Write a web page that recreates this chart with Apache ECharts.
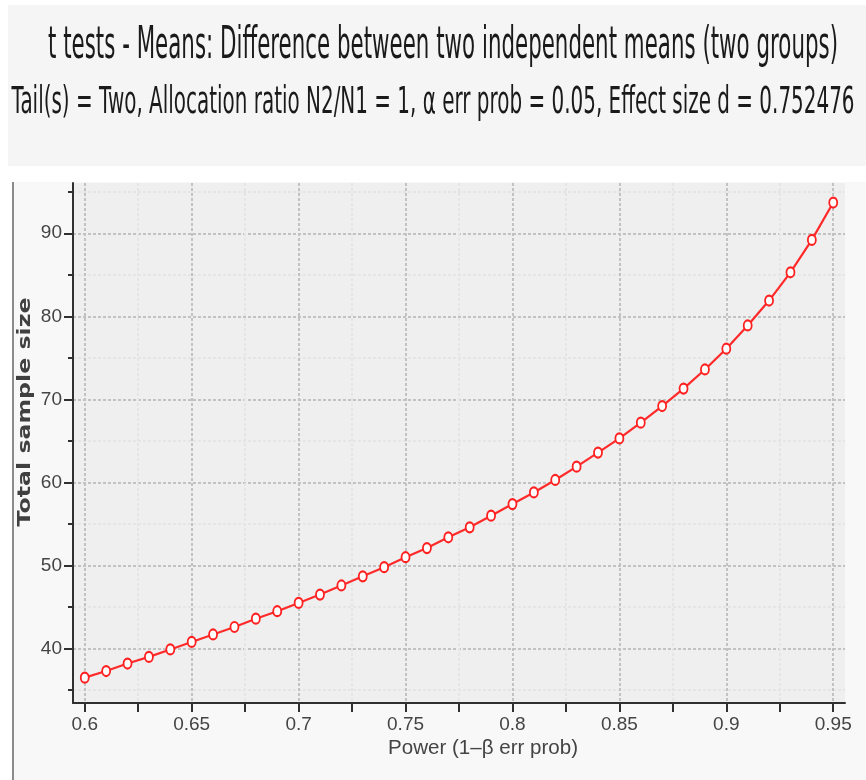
<!DOCTYPE html>
<html><head><meta charset="utf-8">
<script src="https://cdn.jsdelivr.net/npm/echarts@6/dist/echarts.min.js"></script>
<style>html,body{margin:0;padding:0;background:#ffffff}#c{width:866px;height:780px}</style>
</head><body><div id="c"></div>
<script>
// ---- data ----
const power = [0.60,0.61,0.62,0.63,0.64,0.65,0.66,0.67,0.68,0.69,0.70,0.71,0.72,0.73,0.74,0.75,0.76,0.77,0.78,0.79,0.80,0.81,0.82,0.83,0.84,0.85,0.86,0.87,0.88,0.89,0.90,0.91,0.92,0.93,0.94,0.95];
const sampleSize = [36.5,37.3,38.2,39.0,39.9,40.8,41.7,42.6,43.6,44.5,45.5,46.5,47.6,48.7,49.8,51.0,52.1,53.4,54.6,56.0,57.4,58.8,60.3,61.9,63.6,65.3,67.2,69.2,71.3,73.6,76.1,78.9,81.9,85.3,89.2,93.7];
const xMajorTicks = [0.6,0.65,0.7,0.75,0.8,0.85,0.9,0.95];
const xMinorTicks = [0.625,0.675,0.725,0.775,0.825,0.875,0.925];
const yMajorTicks = [40,50,60,70,80,90];
const yMinorTicks = [35,45,55,65,75,85,95];
const titleText = 't tests - Means: Difference between two independent means (two groups)';
const subtitleText = 'Tail(s) = Two, Allocation ratio N2/N1 = 1, \u03b1 err prob = 0.05, Effect size d = 0.752476';
const xName = 'Power (1\u2013\u03b2 err prob)';
const yName = 'Total sample size';

// ---- layout helpers ----
const mctx = document.createElement('canvas').getContext('2d');
function fit(text, font, width){ mctx.font = font; return width / mctx.measureText(text).width; }

const titleFont = '44px "DejaVu Sans"';
const subFont = '37px "DejaVu Sans"';
const yNameFont = 'bold 18px "DejaVu Sans"';
const xNameFont = '21px "Liberation Sans"';
const labelFont = '"Liberation Sans"';

const chart = echarts.init(document.getElementById('c'), null, {renderer:'canvas'});
const gridLeft = 73, gridRight = 21, gridTop = 183, gridBottom = 77;
const majorLine = {color:'#c2c2c2', width:2, type:[3,2]};
const minorLine = {color:'#e5e5e5', width:2, type:[3,2]};

chart.setOption({
  animation:false,
  backgroundColor:'#ffffff',
  graphic:[
    {type:'rect', z:-100, silent:true, shape:{x:8,y:5,width:858,height:161}, style:{fill:'#f5f5f5'}},
    {type:'rect', z:-100, silent:true, shape:{x:13,y:182,width:853,height:598}, style:{fill:'#f8f8f8'}},
    {type:'line', z:-90, silent:true, shape:{x1:13,y1:182,x2:13,y2:780}, style:{stroke:'#8c8c8c', lineWidth:2}},
    {type:'text', silent:true, x:443, y:47, scaleX: fit(titleText, titleFont, 790),
      style:{text:titleText, font:titleFont, fill:'#1a1a1a', align:'center', verticalAlign:'middle'}},
    {type:'text', silent:true, x:433, y:103, scaleX: fit(subtitleText, subFont, 843),
      style:{text:subtitleText, font:subFont, fill:'#1a1a1a', align:'center', verticalAlign:'middle'}},
    {type:'text', silent:true, x:25, y:412, rotation:Math.PI/2, scaleX: fit(yName, yNameFont, 229),
      style:{text:yName, font:yNameFont, fill:'#404040', align:'center', verticalAlign:'middle'}},
    {type:'text', silent:true, x:483, y:748, scaleX: fit(xName, xNameFont, 190),
      style:{text:xName, font:xNameFont, fill:'#444444', align:'center', verticalAlign:'middle'}}
  ],
  grid:{left:gridLeft, right:gridRight, top:gridTop, bottom:gridBottom, show:true, backgroundColor:'#efefef', borderWidth:0},
  xAxis:[
    {type:'value', min:0.5945, max:0.9555, position:'bottom',
      axisLine:{show:true, onZero:false, lineStyle:{color:'#303030', width:2}},
      axisTick:{show:true, customValues:xMajorTicks, length:9, lineStyle:{color:'#303030', width:2}},
      axisLabel:{show:true, customValues:xMajorTicks, margin:12, fontSize:19, fontFamily:labelFont, color:'#444444'},
      splitLine:{show:true, lineStyle:majorLine}},
    {type:'value', min:0.5945, max:0.9555, position:'bottom',
      axisLine:{show:false, onZero:false},
      axisTick:{show:true, customValues:xMinorTicks, length:9, lineStyle:{color:'#303030', width:2}},
      axisLabel:{show:false},
      splitLine:{show:true, lineStyle:minorLine}}
  ],
  yAxis:[
    {type:'value', min:33.45, max:96.05, position:'left',
      axisLine:{show:true, onZero:false, lineStyle:{color:'#303030', width:2}},
      axisTick:{show:true, customValues:yMajorTicks, length:9, lineStyle:{color:'#303030', width:2}},
      axisLabel:{show:true, customValues:yMajorTicks, margin:11, fontSize:19, fontFamily:labelFont, color:'#444444'},
      splitLine:{show:true, lineStyle:majorLine}},
    {type:'value', min:33.45, max:96.05, position:'left',
      axisLine:{show:false, onZero:false},
      axisTick:{show:true, customValues:yMinorTicks, length:5, lineStyle:{color:'#303030', width:2}},
      axisLabel:{show:false},
      splitLine:{show:true, lineStyle:minorLine}}
  ],
  series:[{
    type:'line', xAxisIndex:0, yAxisIndex:0,
    data: power.map((p,i)=>[p, sampleSize[i]]),
    symbol:'emptyCircle', symbolSize:[8,10],
    lineStyle:{color:'#ff2a2a', width:2.2},
    itemStyle:{color:'#ff2020', borderColor:'#ff2020', borderWidth:2},
    z:5
  }]
});
</script></body></html>
